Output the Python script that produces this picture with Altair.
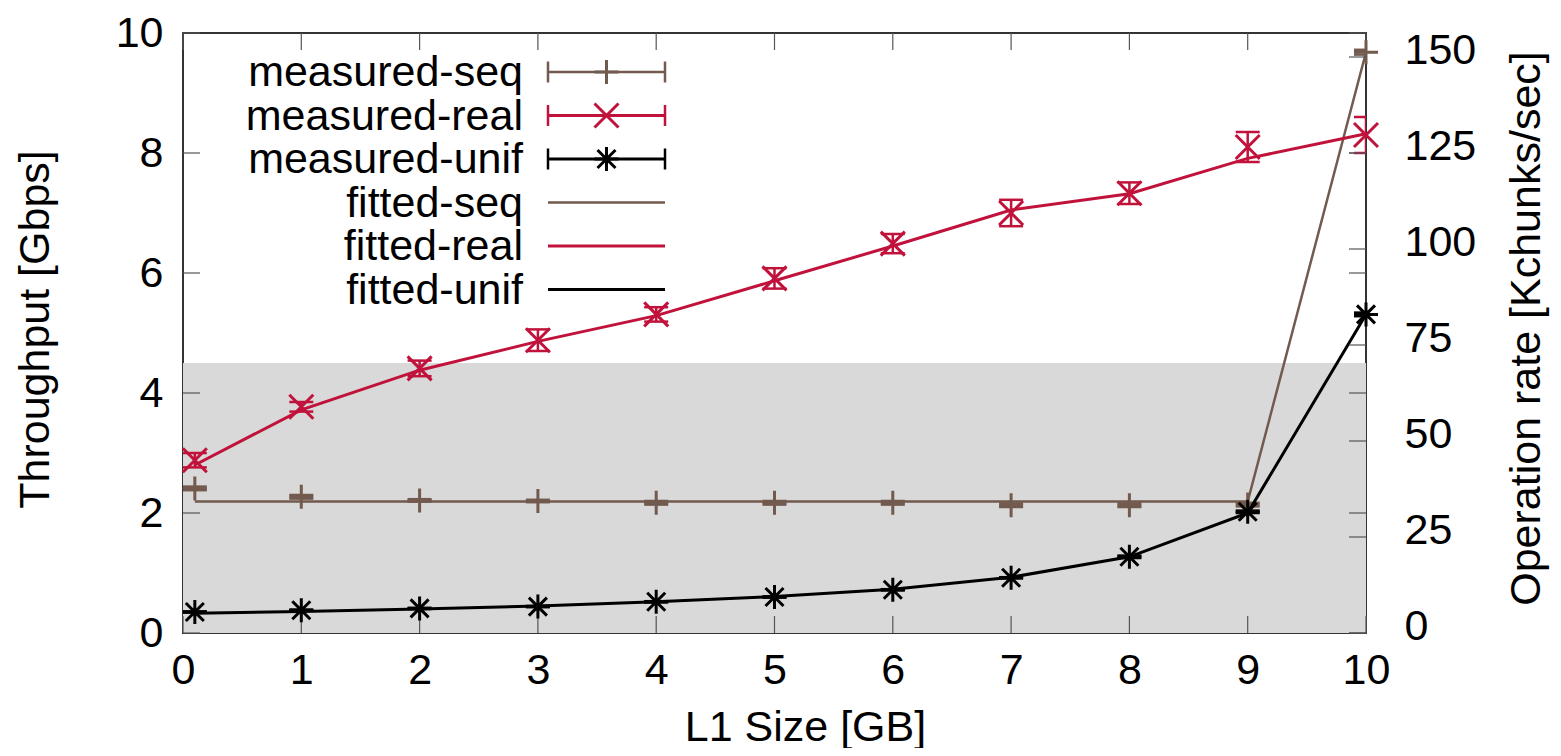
import altair as alt
import pandas as pd

# ---------------- data ----------------
x_vals = [0.1, 1, 2, 3, 4, 5, 6, 7, 8, 9, 10]

seq_meas = [2.41, 2.27, 2.21, 2.20, 2.17, 2.17, 2.17, 2.13, 2.13, 2.14, 9.68]
seq_err = [0.03, 0.03, 0.02, 0.02, 0.03, 0.03, 0.03, 0.03, 0.03, 0.03, 0.04]
seq_fit = [2.19, 2.19, 2.19, 2.19, 2.19, 2.19, 2.19, 2.19, 2.19, 2.19, 9.68]

real_meas = [2.88, 3.77, 4.41, 4.88, 5.31, 5.91, 6.49, 7.00, 7.33, 8.10, 8.30]
real_err = [0.12, 0.08, 0.13, 0.18, 0.12, 0.17, 0.16, 0.22, 0.18, 0.25, 0.30]
real_fit = [2.80, 3.72, 4.38, 4.86, 5.29, 5.87, 6.45, 7.05, 7.32, 7.91, 8.32]

unif_meas = [0.35, 0.38, 0.41, 0.44, 0.52, 0.60, 0.72, 0.92, 1.27, 2.02, 5.31]
unif_err = [0.01, 0.01, 0.01, 0.01, 0.01, 0.01, 0.01, 0.01, 0.02, 0.02, 0.03]
unif_fit = [0.33, 0.36, 0.40, 0.45, 0.52, 0.61, 0.73, 0.93, 1.27, 2.00, 5.31]

x_ticks = [0, 1, 2, 3, 4, 5, 6, 7, 8, 9, 10]
y_ticks = [0, 2, 4, 6, 8, 10]
y2_ticks = [0, 25, 50, 75, 100, 125, 150]
Y2_MAX = 156.25          # 10 Gbps expressed in Kchunks/sec
shade_top = 4.5          # grey band upper edge (Gbps)

legend_labels = ["measured-seq", "measured-real", "measured-unif",
                 "fitted-seq", "fitted-real", "fitted-unif"]

# ---------------- style ----------------
W, H = 1183, 600
FONT = "Liberation Sans"
FS = 43
BROWN = "#725a4e"
RED = "#c1123b"
BLACK = "#000000"
TICK_LEN = 17
TICK_COLOR = "#555555"

PLUS = "M-1,0L1,0M0,-1L0,1"
CROSS = "M-1,-1L1,1M-1,1L1,-1"
STAR = "M-1,0L1,0M0,-1L0,1M-0.75,-0.75L0.75,0.75M-0.75,0.75L0.75,-0.75"
HCAP = "M-1,0L1,0"
VCAP = "M0,-1L0,1"

series = [
    ("seq", BROWN, PLUS, seq_meas, seq_err, seq_fit, 2.5),
    ("real", RED, CROSS, real_meas, real_err, real_fit, 3),
    ("unif", BLACK, STAR, unif_meas, unif_err, unif_fit, 3),
]

x_axis = alt.Axis(values=x_ticks, ticks=False, domain=False, grid=False,
                  labelPadding=16, labelFlush=False, title="L1 Size [GB]",
                  titleX=622, titleY=94, titleBaseline="middle",
                  titleAlign="center")
y_axis = alt.Axis(values=y_ticks, ticks=False, domain=False, grid=False,
                  labelPadding=20, labelFlush=False, labelOffset=0,
                  title="Throughput [Gbps]",
                  titleAngle=270, titleX=-148, titleY=296,
                  titleBaseline="middle", titleAlign="center")


def X():
    return alt.X("x:Q", scale=alt.Scale(domain=[0, 10], nice=False, zero=False),
                 axis=x_axis)


def Y():
    return alt.Y("y:Q", scale=alt.Scale(domain=[0, 10], nice=False),
                 axis=y_axis)


layers = []

# grey band
band = pd.DataFrame({"x": [0], "x2": [10], "y": [0], "y2": [shade_top]})
layers.append(alt.Chart(band).mark_rect(color="#d9d9d9").encode(
    x=X(), x2="x2:Q", y=Y(), y2="y2:Q"))

# inward ticks
xt = pd.DataFrame({"x": x_ticks})
layers.append(alt.Chart(xt).mark_rule(color=TICK_COLOR, strokeWidth=1.2).encode(
    x=X(), y=alt.value(H), y2=alt.value(H - TICK_LEN)))
layers.append(alt.Chart(xt).mark_rule(color=TICK_COLOR, strokeWidth=1.2).encode(
    x=X(), y=alt.value(0), y2=alt.value(TICK_LEN)))
yt = pd.DataFrame({"y": y_ticks})
layers.append(alt.Chart(yt).mark_rule(color=TICK_COLOR, strokeWidth=1.2).encode(
    y=Y(), x=alt.value(0), x2=alt.value(TICK_LEN)))
layers.append(alt.Chart(yt).mark_rule(color=TICK_COLOR, strokeWidth=1.2).encode(
    y=Y(), x=alt.value(W - TICK_LEN), x2=alt.value(W)))

for name, color, shape, meas, err, fit, lw in series:
    fdf = pd.DataFrame({"x": x_vals, "y": fit})
    layers.append(alt.Chart(fdf).mark_line(color=color, strokeWidth=lw).encode(
        x=X(), y=Y()))
    lo = [m - e for m, e in zip(meas, err)]
    hi = [m + e for m, e in zip(meas, err)]
    edf = pd.DataFrame({"x": x_vals, "y": lo, "y2": hi})
    layers.append(alt.Chart(edf).mark_rule(color=color, strokeWidth=2.5, clip=True).encode(
        x=X(), y=Y(), y2="y2:Q"))
    cdf = pd.DataFrame({"x": x_vals + x_vals, "y": lo + hi})
    layers.append(alt.Chart(cdf).mark_point(shape=HCAP, size=576, filled=False,
                                            color=color, strokeWidth=2.5,
                                            opacity=1, clip=True).encode(
        x=X(), y=Y()))
    mdf = pd.DataFrame({"x": x_vals, "y": meas})
    layers.append(alt.Chart(mdf).mark_point(shape=shape, size=576, filled=False,
                                            color=color, strokeWidth=3,
                                            opacity=1).encode(
        x=X(), y=Y()))

# legend (pixel positions inside the plot area)
LEG_TX, LEG_Y0, LEG_DY = 340, 39, 43.5
LEG_L1, LEG_L2 = 365, 482
leg_colors = [BROWN, RED, BLACK, BROWN, RED, BLACK]
leg_shapes = [PLUS, CROSS, STAR, None, None, None]
leg_lw = [2.5, 3, 3, 2.5, 3, 3]
for i, lab in enumerate(legend_labels):
    py = LEG_Y0 + i * LEG_DY
    tdf = pd.DataFrame({"px": [LEG_TX], "py": [py], "t": [lab]})
    layers.append(alt.Chart(tdf).mark_text(align="right", baseline="middle",
                                           font=FONT, fontSize=FS, color="black",
                                           dy=1).encode(
        x=alt.X("px:Q", scale=None), y=alt.Y("py:Q", scale=None), text="t:N"))
    ldf = pd.DataFrame({"px": [LEG_L1], "px2": [LEG_L2], "py": [py]})
    layers.append(alt.Chart(ldf).mark_rule(color=leg_colors[i], strokeWidth=leg_lw[i]).encode(
        x=alt.X("px:Q", scale=None), x2="px2:Q", y=alt.Y("py:Q", scale=None)))
    if leg_shapes[i] is not None:
        capdf = pd.DataFrame({"px": [LEG_L1, LEG_L2], "py": [py, py]})
        layers.append(alt.Chart(capdf).mark_point(shape=VCAP, size=441, filled=False,
                                                  color=leg_colors[i], strokeWidth=2.5,
                                                  opacity=1).encode(
            x=alt.X("px:Q", scale=None), y=alt.Y("py:Q", scale=None)))
        mkdf = pd.DataFrame({"px": [(LEG_L1 + LEG_L2) / 2], "py": [py]})
        layers.append(alt.Chart(mkdf).mark_point(shape=leg_shapes[i], size=576, filled=False,
                                                 color=leg_colors[i], strokeWidth=3,
                                                 opacity=1).encode(
            x=alt.X("px:Q", scale=None), y=alt.Y("py:Q", scale=None)))

left = alt.layer(*layers)

# right axis (operation rate)
r_df = pd.DataFrame({"v": y2_ticks})
right = alt.Chart(r_df).mark_rule(color=TICK_COLOR, strokeWidth=1.2).encode(
    y=alt.Y("v:Q", scale=alt.Scale(domain=[0, Y2_MAX], nice=False),
            axis=alt.Axis(orient="right", values=y2_ticks, ticks=False, domain=False,
                          grid=False, labelPadding=38, labelFlush=False,
                          labelOffset=-7,
                          title="Operation rate [Kchunks/sec]", titleAngle=270,
                          titleX=160, titleY=295, titleBaseline="middle",
                          titleAlign="center")),
    x=alt.value(W - TICK_LEN), x2=alt.value(W))

chart = alt.layer(left, right).resolve_scale(y="independent").properties(
    width=W, height=H,
    padding={"left": 175, "top": 25, "right": 187, "bottom": 115},
    autosize=alt.AutoSizeParams(type="none"),
).configure_axis(
    labelFont=FONT, labelFontSize=FS, labelColor="black",
    titleFont=FONT, titleFontSize=FS, titleColor="black", titleFontWeight="normal",
).configure_view(stroke="#333333", strokeWidth=2)

chart.save("out.html", embed_options={"renderer": "svg", "actions": False})
